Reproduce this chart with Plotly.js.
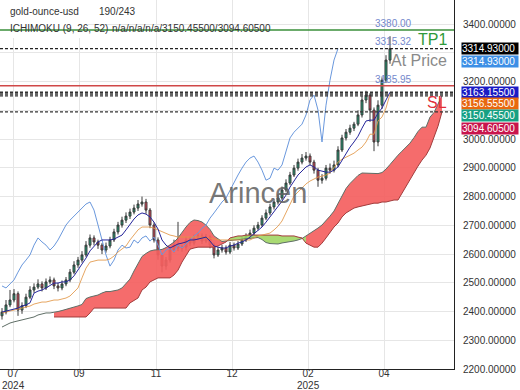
<!DOCTYPE html>
<html><head><meta charset="utf-8">
<script src="https://cdn.plot.ly/plotly-3.0.1.min.js"></script>
<style>html,body{margin:0;padding:0;background:#fff}#chart{width:520px;height:390px}</style>
</head><body><div id="chart"></div>
<script>
// ---- data (one candle = 2 trading bars) ----
const openP = [2385,2398,2423,2440,2462,2405,2420,2450,2475,2485,2496,2482,2503,2510,2489,2482,2496,2510,2537,2562,2579,2597,2631,2656,2642,2631,2614,2628,2649,2677,2701,2718,2732,2746,2760,2774,2781,2753,2701,2649,2597,2558,2579,2614,2631,2621,2624,2649,2638,2656,2663,2645,2659,2631,2597,2614,2621,2607,2631,2621,2635,2649,2663,2673,2690,2701,2725,2743,2764,2781,2795,2823,2847,2875,2899,2920,2934,2941,2920,2892,2857,2864,2899,2892,2910,2962,3004,3024,3038,3052,3084,3136,3153,3101,2990,3118,3205,3275];
const highP = [2412,2440,2475,2478,2470,2432,2462,2488,2498,2512,2505,2515,2522,2518,2500,2508,2520,2548,2575,2590,2610,2645,2668,2665,2650,2638,2640,2660,2688,2712,2730,2745,2758,2772,2788,2800,2792,2760,2710,2658,2605,2590,2625,2650,2712,2632,2660,2660,2668,2675,2672,2670,2665,2640,2625,2632,2630,2642,2640,2645,2660,2672,2685,2700,2712,2735,2755,2775,2792,2808,2835,2860,2886,2910,2932,2948,2955,2950,2928,2900,2878,2910,2915,2925,2975,3015,3035,3050,3060,3100,3150,3168,3160,3110,3135,3215,3292,3358];
const lowP = [2372,2390,2415,2432,2385,2392,2412,2443,2465,2478,2470,2475,2495,2478,2470,2474,2488,2502,2530,2552,2570,2590,2622,2630,2618,2600,2605,2620,2642,2668,2692,2708,2722,2738,2750,2765,2740,2690,2640,2580,2536,2545,2570,2605,2610,2608,2612,2628,2630,2648,2635,2638,2620,2585,2590,2605,2598,2600,2612,2614,2628,2642,2655,2665,2682,2695,2718,2735,2755,2772,2788,2815,2840,2868,2890,2912,2925,2910,2880,2834,2845,2856,2880,2884,2902,2955,2995,3015,3028,3045,3075,3125,3060,2958,2975,3105,3195,3262];
const closeP = [2398,2423,2440,2462,2405,2420,2450,2475,2485,2496,2482,2503,2510,2489,2482,2496,2510,2537,2562,2579,2597,2631,2656,2642,2631,2614,2628,2649,2677,2701,2718,2732,2746,2760,2774,2781,2753,2701,2649,2597,2558,2579,2614,2631,2621,2624,2649,2638,2656,2663,2645,2659,2631,2597,2614,2621,2607,2631,2621,2635,2649,2663,2673,2690,2701,2725,2743,2764,2781,2795,2823,2847,2875,2899,2920,2934,2941,2920,2892,2857,2864,2899,2892,2910,2962,3004,3024,3038,3052,3084,3136,3153,3101,2990,3118,3205,3275,3314.93];
const tenkan = [2398,2402,2405,2409,2412,2419,2423,2430,2464,2471,2475,2482,2492,2499,2499,2503,2503,2510,2524,2544,2565,2586,2611,2628,2642,2649,2649,2649,2652,2659,2666,2684,2704,2722,2736,2743,2739,2729,2711,2687,2649,2631,2621,2628,2635,2638,2642,2649,2649,2652,2656,2659,2645,2628,2624,2621,2621,2628,2631,2638,2642,2649,2659,2670,2680,2694,2711,2729,2746,2767,2784,2805,2833,2854,2875,2889,2903,2910,2903,2892,2889,2885,2885,2892,2903,2927,2951,2972,2990,3010,3038,3063,3066,3066,3090,3108,3136,3163.155];
const kijun = [2395,2398,2402,2405,2409,2412,2416,2419,2426,2430,2433,2433,2437,2440,2440,2444,2447,2454,2468,2482,2517,2551,2572,2576,2579,2579,2579,2583,2593,2607,2617,2628,2649,2666,2684,2694,2694,2694,2690,2684,2677,2673,2666,2663,2659,2659,2659,2659,2659,2659,2659,2656,2656,2652,2649,2649,2649,2649,2649,2649,2649,2649,2649,2656,2663,2666,2670,2673,2684,2697,2715,2746,2777,2802,2816,2830,2844,2854,2861,2868,2871,2875,2882,2899,2920,2930,2937,2944,2951,2962,2972,2990,3017,3017,3063,3077,3108,3156.555];
// Senkou span A, candle 0..110 (displayed 26 bars ahead)
const spanA = [2346,2353,2360,2364,2367,2371,2374,2378,2381,2388,2391,2395,2395,
2396.5,2400,2403.5,2407,2410.5,2415.5,2419.5,2424.5,2445,2450.5,
2454,2457.5,2464.5,2469.5,2469.5,2473.5,2475,2482,2496,2513,
2541,2568.5,2591.5,2602,2610.5,2614,2614,2616,2622.5,2633,
2641.5,2656,2676.5,2694,2710,2718.5,2716.5,2711.5,2700.5,2685.5,
2663,2652,2643.5,2645.5,2647,2648.5,2650.5,2654,2654,2655.5,
2657.5,2657.5,2650.5,2640,2636.5,2635,2635,2638.5,2640,2643.5,
2645.5,2649,2654,2663,2671.5,2680,2690.5,2701,2715,2732,
2749.5,2775.5,2805,2828,2845.5,2859.5,2873.5,2882,2882,2880,
2880,2880,2883.5,2895.5,2911.5,2928.5,2944,2958,2970.5,2986,
3005,3026.5,3041.5,3041.5,3076.5,3092.5,3122,3150.455];
// Senkou span B, candle 13..110
const spanBStart = 13;
const spanB = [2381,2381,2381,2381,2381,2381,2381,2381,2381,2395,
2412,2412,2412,2412,2412,2412,2412,2412,2412,2430,2440,2447,
2475,2485,2503,2510,2517,2517,2517,2517,2527,2544,2572,2597,
2617,2621,2624,2624,2624,2624,2624,2628,2635,2642,
2656,2659,2663,2663,2666,2666,2666,2666,2666,2666,2666,2666,2666,2663,2663,2663,2663,2659,2656,
2638,2631,2624,2624,2638,2656,2677,2694,2708,2729,2743,2753,
2760,2764,2767,2770,2774,2777,2777,2781,2781,2784,2788,2788,
2812,2837,2857,2882,2906,2927,2944,2969,3004,3045,3094.605];
const lagShift = 13;
const tickPos = [2.75, 19.25, 38.5, 57.5, 76.5, 95.5];
const tickLabels = ['07','09','11','12','02','04'];
const yearPos = [2.75, 76.5];
const yearLabels = ['2024','2025'];
const yTicks = [2200,2300,2400,2500,2600,2700,2800,2900,3000,3100,3200,3300,3400];
const yHidden = [3100, 3300]; // labels covered by the price boxes
const levelTP = 3380.00, levelAt = 3315.32, levelSL = 3185.95;
const lastClose = 3314.93, lastLag = 3314.93;
const lastTenkan = 3163.155, lastKijun = 3156.555, lastA = 3150.455, lastB = 3094.605;

// ---- traces ----
const idx = closeP.map((_, i) => i);
const traces = [];
const nB = spanB.length;
const sgn = i => (spanA[i + spanBStart] >= spanB[i] ? 1 : -1);
let runs = [], s = 0, cur = sgn(0);
for (let i = 1; i < nB; i++) { const g = sgn(i); if (g !== cur) { runs.push([s, i, cur]); s = i; cur = g; } }
runs.push([s, nB - 1, cur]);
runs.forEach(([a, b, g]) => {
  const xs = [], ya = [], yb = [];
  for (let i = a; i <= b; i++) { xs.push(i + spanBStart); ya.push(spanA[i + spanBStart]); yb.push(spanB[i]); }
  traces.push({type:'scatter', mode:'lines', x:xs, y:yb, line:{width:0}, hoverinfo:'skip'});
  traces.push({type:'scatter', mode:'lines', x:xs, y:ya, line:{width:0}, fill:'tonexty',
    fillcolor: g > 0 ? 'rgba(244,96,96,0.92)' : 'rgba(160,214,100,0.9)', hoverinfo:'skip'});
});
traces.push({type:'scatter', mode:'lines', x:spanA.map((_, i) => i), y:spanA, line:{color:'#5f6e66', width:1}});
traces.push({type:'scatter', mode:'lines', x:spanB.map((_, i) => i + spanBStart), y:spanB, line:{color:'#a23c3c', width:1}});
traces.push({type:'scatter', mode:'lines', x:closeP.slice(lagShift).map((_, i) => i), y:closeP.slice(lagShift), line:{color:'#6a98dd', width:1}});
traces.push({type:'scatter', mode:'lines', x:idx, y:kijun, line:{color:'rgba(226,150,70,0.85)', width:1}});
traces.push({type:'scatter', mode:'lines', x:idx, y:tenkan, line:{color:'#25259a', width:1}});
traces.push({type:'candlestick', x:idx, open:openP, high:highP, low:lowP, close:closeP, whiskerwidth:0,
  increasing:{line:{color:'#3a3a3a', width:1}, fillcolor:'#1e9e76'},
  decreasing:{line:{color:'#3a3a3a', width:1}, fillcolor:'#e04658'}});

// ---- layout ----
const W = 454, H = 369;
const px = v => v / W, py = v => 1 - v / H;
const hline = (y, color, dash, width) => ({type:'line', xref:'paper', x0:0, x1:1, yref:'y', y0:y, y1:y, layer:'above',
  line:{color:color, dash:dash, width:width}});
const shapes = [
  {type:'rect', xref:'paper', yref:'paper', x0:0, x1:px(88), y0:py(38), y1:1, fillcolor:'#fff', line:{width:0}, layer:'above'},
  hline(levelTP, '#3a8f3a', 'solid', 1.5),
  hline(lastClose, '#222', '3px,2px', 1.3),
  hline(levelSL, '#d04848', 'solid', 1.5),
  hline(lastTenkan, '#333', '3px,2px', 1.5),
  hline(lastKijun, '#333', '3px,2px', 1.5),
  hline(lastA, '#333', '3px,2px', 1.3),
  hline(lastB, '#333', '3px,2px', 1.3)
];
const ann = [];
const txt = (x, y, t, size, color, xa) => ann.push({xref:'paper', yref:'paper', x:px(x), y:py(y), text:t, showarrow:false,
  xanchor:xa || 'left', yanchor:'middle', font:{size:size, color:color}});
txt(8, 12, 'gold-ounce-usd', 10, '#333');
txt(97, 12, '190/243', 10, '#333');
txt(8, 29, 'ICHIMOKU (9, 26, 52)', 10, '#333');
txt(110, 29, 'n/a/n/a/n/a/' + lastA.toFixed(5) + '/' + lastB.toFixed(5), 10, '#333');
yearPos.forEach((x, i) => ann.push({xref:'x', yref:'paper', x:x, y:py(385), text:yearLabels[i], showarrow:false,
  xanchor:'center', yanchor:'middle', borderpad:0, font:{size:10, color:'#333'}}));
ann.push({xref:'paper', yref:'paper', x:px(258), y:py(193), text:'Arincen', showarrow:false,
  font:{size:29, color:'rgba(95,95,95,0.85)'}});
const lvl = (y, t, ya, size, color, x, ys) => ann.push({xref:'paper', yref:'y', x:px(x), y:y, text:t, showarrow:false,
  xanchor:'right', yanchor:ya, yshift:ys || 0, font:{size:size, color:color}});
lvl(levelTP, levelTP.toFixed(2), 'bottom', 10, '#7388cc', 414, -1);
lvl(levelAt, levelAt.toFixed(2), 'bottom', 10, '#7388cc', 414, -1);
lvl(levelSL, levelSL.toFixed(2), 'bottom', 10, '#7388cc', 414, -1);
lvl(levelAt, 'TP1', 'bottom', 16, '#2f9a3a', 449, -2);
lvl(levelAt, 'At Price', 'top', 16, '#8a8a8a', 449, -2);
lvl(lastTenkan, 'SL', 'top', 16, '#e0303a', 449, 0);
const box = (y, v, bg) => ann.push({xref:'paper', yref:'paper', x:1, xshift:7, xanchor:'left', y:py(y), yanchor:'middle',
  text:v.toFixed(5), showarrow:false, bgcolor:bg, borderpad:0, height:11, width:56, align:'left', font:{size:10, color:'#fff'}});
box(49, lastClose, '#000');
box(61, lastLag, '#3d8fe6');
box(92, lastTenkan, '#1a1ac4');
box(104, lastKijun, '#e8680f');
box(116, lastA, '#17a083');
box(128, lastB, '#c8154c');

const layout = {
  width:520, height:390, margin:{l:0, r:66, t:0, b:21}, paper_bgcolor:'#fff', plot_bgcolor:'#fff',
  showlegend:false, hovermode:false,
  font:{family:'Liberation Sans, Arial, sans-serif', size:10, color:'#333'},
  xaxis:{range:[-0.5, 113], tickvals:tickPos, ticktext:tickLabels, showgrid:true, gridcolor:'#e6e6e6',
    showline:true, linecolor:'#222', linewidth:1, zeroline:false, ticks:'', rangeslider:{visible:false},
    automargin:false, ticklabelstandoff:-5, tickfont:{size:10, color:'#333'}},
  yaxis:{side:'right', range:[2200, 3484], tickvals:yTicks,
    ticktext:yTicks.map(v => yHidden.includes(v) ? '' : v.toFixed(5)), showgrid:true, gridcolor:'#e6e6e6',
    showline:true, linecolor:'#222', linewidth:1, zeroline:false, ticks:'', ticklabelstandoff:6,
    automargin:false, tickfont:{size:10, color:'#333'}},
  shapes:shapes, annotations:ann
};
Plotly.newPlot('chart', traces, layout, {staticPlot:true, displayModeBar:false});
</script></body></html>
